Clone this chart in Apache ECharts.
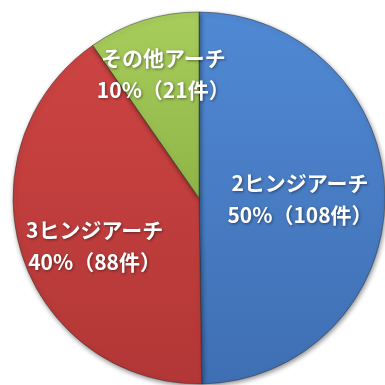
<!DOCTYPE html>
<html><head><meta charset="utf-8">
<script src="https://cdn.jsdelivr.net/npm/echarts@6/dist/echarts.min.js"></script>
<style>html,body{margin:0;padding:0;background:#fff}#c{width:385px;height:385px}</style>
</head><body><div id="c"></div>
<script>
var categories = ['2ヒンジアーチ', '3ヒンジアーチ', 'その他アーチ'];
var counts = [108, 88, 21];
var percents = [50, 40, 10];

var sliceColors = [
  ['#5089d4', '#3f6fb3'],
  ['#cc4443', '#b23736'],
  ['#a8cd5c', '#8fb548']
];
var labelOffsets = [[5, 2], [-13, 19], [-7, -32]];

var data = categories.map(function (name, i) {
  return {
    name: name,
    value: counts[i],
    pct: percents[i],
    itemStyle: {
      color: new echarts.graphic.LinearGradient(0, 0, 0, 1, [
        { offset: 0, color: sliceColors[i][0] },
        { offset: 1, color: sliceColors[i][1] }
      ])
    },
    label: { offset: labelOffsets[i] }
  };
});

var chart = echarts.init(document.getElementById('c'));
chart.setOption({
  animation: false,
  series: [{
    type: 'pie',
    center: [199, 198],
    radius: 186,
    startAngle: 90,
    clockwise: true,
    data: data,
    itemStyle: {
      borderColor: 'rgba(40,40,40,0.45)',
      borderWidth: 1,
      shadowBlur: 5,
      shadowColor: 'rgba(0,0,0,0.45)',
      shadowOffsetX: 1,
      shadowOffsetY: 2
    },
    label: {
      show: true,
      position: 'inside',
      color: '#ffffff',
      fontFamily: '"Noto Sans CJK JP", sans-serif',
      fontWeight: 'bold',
      fontSize: 21,
      lineHeight: 32,
      textShadowColor: 'rgba(0,0,0,0.45)',
      textShadowBlur: 3,
      textShadowOffsetX: 1,
      textShadowOffsetY: 1,
      formatter: function (p) {
        return p.name + '\n' + p.data.pct + '%（' + p.value + '件）';
      }
    },
    labelLine: { show: false }
  }]
});
</script>
</body></html>
